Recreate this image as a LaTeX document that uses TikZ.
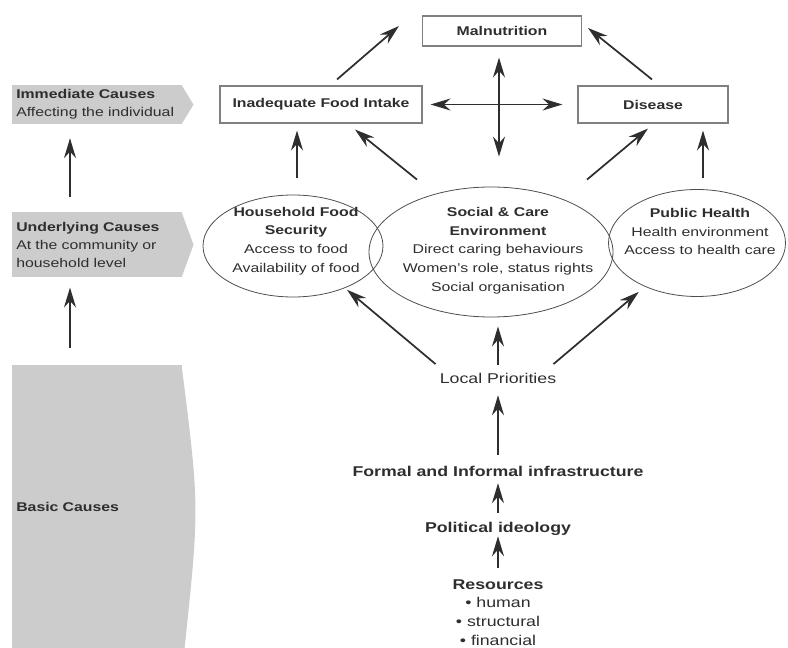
\documentclass[tikz,border=0pt]{standalone}
\usepackage{fontspec}
\setmainfont{Liberation Sans}[FakeStretch=1.25]
\usetikzlibrary{arrows.meta,shapes.geometric,calc}
\definecolor{bannergray}{HTML}{CCCCCC}
\definecolor{inkgray}{HTML}{2E2E2E}
\definecolor{edgegray}{HTML}{808080}
\tikzset{
  causebox/.style={draw=edgegray,line width=0.8pt,minimum height=27.75pt,font=\fontsize{9.5}{14}\selectfont\bfseries,text=inkgray},
  envellipse/.style={ellipse,draw=inkgray!85,line width=0.6pt,inner sep=0pt},
  envtext/.style={align=center,font=\fontsize{9.5}{14}\selectfont,text=inkgray,inner sep=0pt},
  chaintext/.style={font=\fontsize{10.65}{14}\selectfont,text=inkgray,inner sep=0pt,text height=8pt,text depth=2pt},
  chainbold/.style={chaintext,font=\fontsize{10.65}{14}\selectfont\bfseries},
  banner/.style={fill=bannergray,anchor=north west,minimum width=127.5pt,inner xsep=3pt,align=left,text width=121.5pt,font=\fontsize{9.5}{13.5}\selectfont,text=inkgray},
  arr/.style={-{Stealth[length=15pt,width=9pt,inset=5pt]},line width=1.3pt,draw=inkgray},
  twoway/.style={{Stealth[length=15pt,width=9pt,inset=5pt]}-{Stealth[length=15pt,width=9pt,inset=5pt]},line width=1.3pt,draw=inkgray}
}

\begin{document}
\begin{tikzpicture}[x=0.75pt,y=-0.75pt]
\useasboundingbox (0,0) rectangle (788,648);

% left column
\node[banner,minimum height=28.5pt] (imm) at (12,85) {\textbf{Immediate Causes}\\Affecting the individual};
\fill[bannergray] ($(imm.north east)+(-1,0)$) -- ($(imm.east)+(11,0)$) -- ($(imm.south east)+(-1,0)$) -- cycle;
\node[banner,minimum height=48.75pt,inner ysep=6pt] (und) at (12,212) {\textbf{Underlying Causes}\\At the community or\\household level\\[-6pt]};
\fill[bannergray] ($(und.north east)+(-1,0)$) -- ($(und.east)+(11,0)$) -- ($(und.south east)+(-1,0)$) -- cycle;
\node[banner,minimum height=212.25pt] (bas) at (12,365) {\textbf{Basic Causes}};
\fill[bannergray] ($(bas.north east)+(-1,0)$) .. controls ($(bas.east)+(17,0)$) .. ($(bas.south east)+(2,0)$) -- ($(bas.south east)+(-1,0)$) -- cycle;

\draw[arr,shorten <=11pt,shorten >=10.5pt] ($(und.north west)+(58,0)$) -- ($(imm.south west)+(58,0)$);
\draw[arr,shorten <=12.75pt,shorten >=7.5pt] ($(bas.north west)+(58,0)$) -- ($(und.south west)+(58,0)$);

% immediate level
\node[causebox,minimum width=119.25pt,minimum height=22.5pt] (mal) at (502,31) {Malnutrition};
\node[causebox,minimum width=151.5pt] (ifi) at (321,104.5) {Inadequate Food Intake};
\node[causebox,minimum width=112.5pt] (dis) at (653,104.5) {Disease};

% underlying level
\node[envellipse,minimum width=135pt,minimum height=76.5pt] (hfs) at (293,246) {};
\node[envellipse,minimum width=183pt,minimum height=97.5pt] (sce) at (491,252) {};
\node[envellipse,minimum width=132.75pt,minimum height=80.25pt] (phe) at (697,243) {};

\node[envtext] (hfstext) at (296,241) {\textbf{Household Food}\\\textbf{Security}\\Access to food\\Availability of food};
\node[envtext] (scetext) at (498,250.5) {\textbf{Social \& Care}\\\textbf{Environment}\\Direct caring behaviours\\Women's role, status rights\\Social organisation};
\node[envtext] (phetext) at (700,231.5) {\textbf{Public Health}\\Health environment\\Access to health care};

\draw[arr] ($(ifi.north)+(16,-6)$) -- ($(mal.west)+(-23,-5)$);
\draw[arr] ($(dis.north)+(-1,-6)$) -- ($(mal.east)+(6,-3)$);
\draw[twoway,shorten <=6pt,shorten >=11.25pt] (ifi) -- (dis);
\draw[twoway,shorten <=8.25pt,shorten >=22.5pt] ($(mal.south)+(-3,0)$) -- ($(sce.north)+(8,0)$);

\draw[arr,shorten <=12.75pt,shorten >=5.25pt] ($(hfs.north)+(4,0)$) -- ($(ifi.south)+(-24,0)$);
\draw[arr,shorten <=8.6pt,shorten >=5.25pt] ($(phe.north)+(6,0)$) -- ($(dis.south)+(50,0)$);
\draw[arr] ($(sce.north)+(-74,-7)$) -- ($(ifi.south)+(34,6)$);
\draw[arr] ($(sce.north)+(96,-7)$) -- ($(dis.south)+(-5,5)$);

% basic level
\node[chaintext] (lp) at (498,379) {Local Priorities};
\node[chainbold] (infra) at (498,472) {Formal and Informal infrastructure};
\node[chainbold] (pol) at (498,528) {Political ideology};
\node[align=center,font=\fontsize{10.65}{14}\selectfont,text=inkgray,inner sep=0pt,anchor=north] (res) at (498,579)
  {\textbf{Resources}\\• human\\• structural\\• financial};

\draw[arr,shorten >=2pt] ($(lp.north west)+(-4,-8)$) -- (hfs.-39);
\draw[arr,shorten <=5.6pt,shorten >=6.75pt] (lp.north) -- (lp.north |- sce.south);
\draw[arr,shorten >=6pt] ($(lp.north east)+(-3,-8)$) -- (phe.-140);
\draw[arr,shorten <=7.5pt,shorten >=7pt] (infra) -- (lp);
\draw[arr,shorten <=6pt,shorten >=3.2pt] (pol) -- (infra);
\draw[arr,shorten <=8.5pt,shorten >=1pt] (res) -- (pol);
\end{tikzpicture}
\end{document}
